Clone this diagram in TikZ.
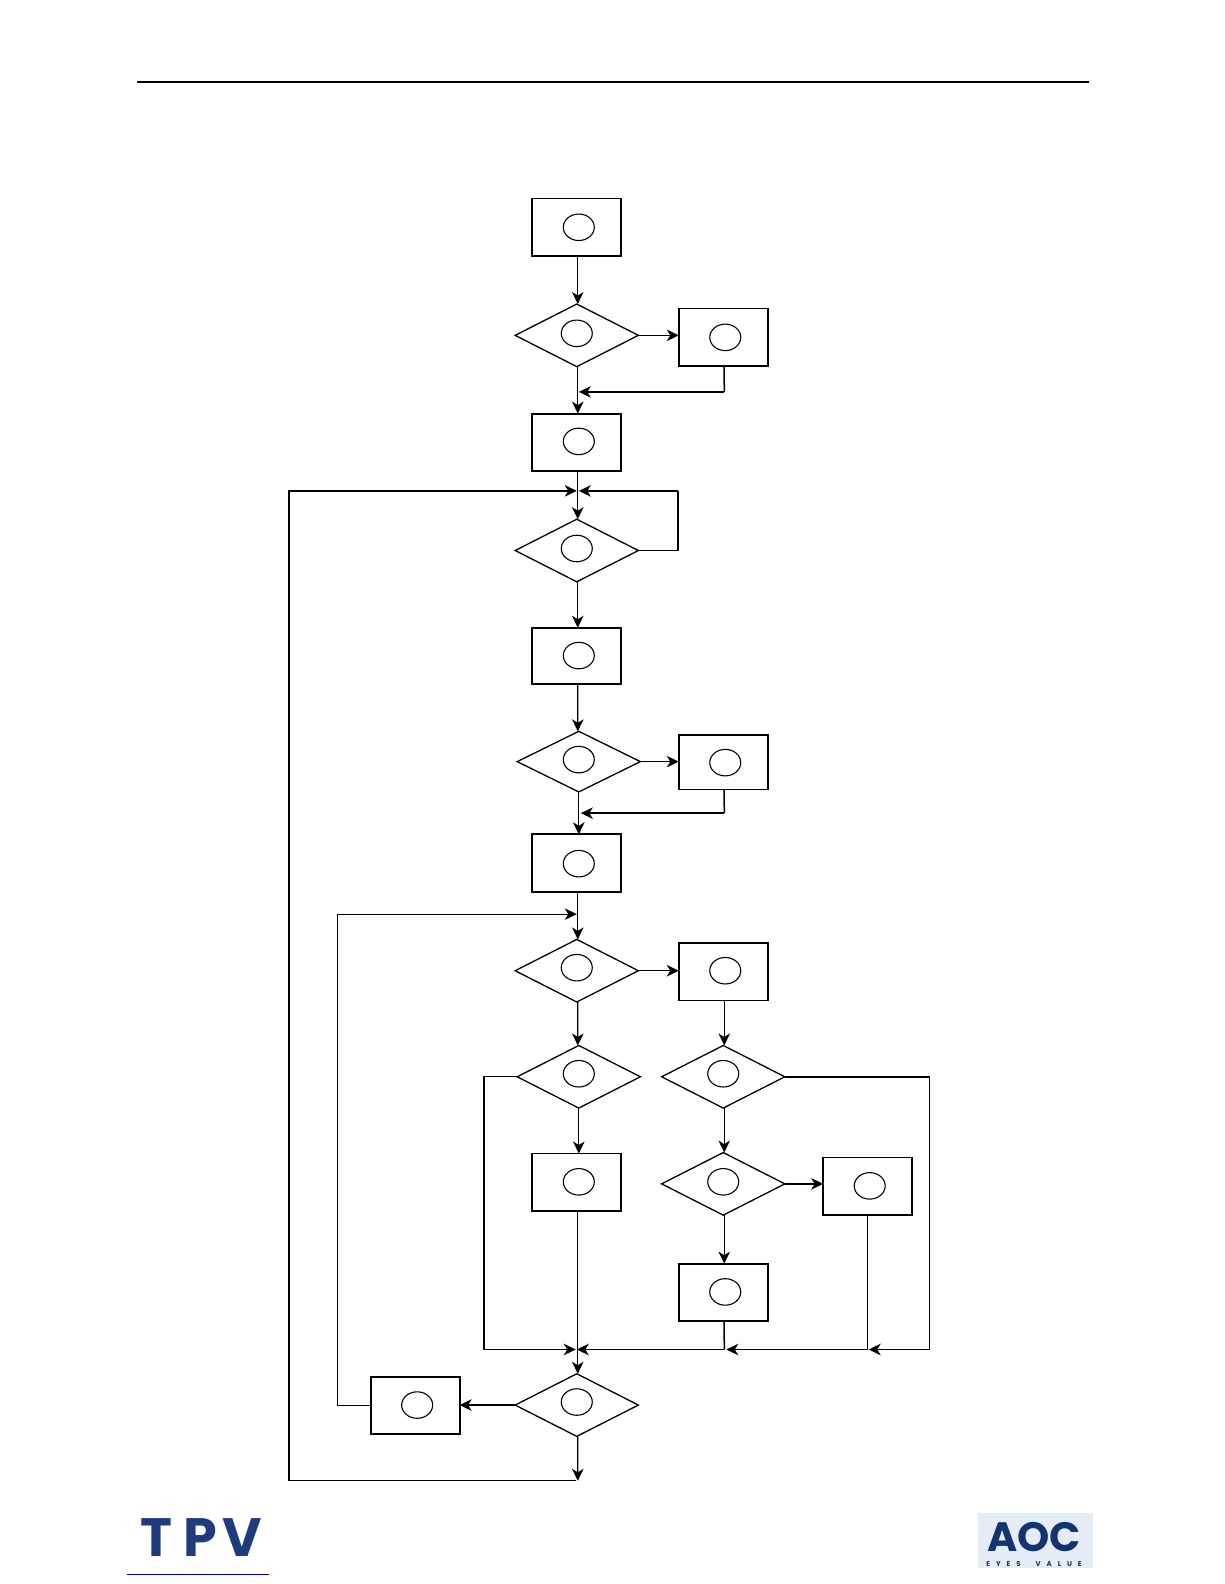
\documentclass[tikz,border=0pt]{standalone}
\usepackage{fontspec}
\setmainfont{Liberation Sans}
\newfontfamily\logofont[Scale=1]{Poppins}
\newfontfamily\taglinefont[LetterSpace=85]{Poppins}
\usetikzlibrary{shapes.geometric,arrows.meta,calc}
\definecolor{logoblue}{HTML}{1F3A7D}
\definecolor{aocbg}{HTML}{E6ECF7}
\definecolor{aocblue}{HTML}{12346F}
\tikzset{
  bx/.style={draw,line width=1.8pt,rectangle,minimum width=88.9pt,minimum height=57.6pt,inner sep=0pt,outer sep=0pt},
  dm/.style={draw,line width=1.3pt,diamond,minimum width=123.2pt,minimum height=62.6pt,inner sep=0pt,outer sep=0pt},
  ov/.style={draw,line width=1.1pt,ellipse,minimum width=31pt,minimum height=26.5pt,inner sep=0pt,outer sep=0pt},
  ar/.style={line width=1.4pt,-{Stealth[length=12pt,width=11.5pt,inset=3.5pt]}},
  ln/.style={line width=1.5pt}
}
\begin{document}
\begin{tikzpicture}[x=1.0101pt,y=-1.0101pt]
\useasboundingbox (0pt,0pt) rectangle (1224pt,-1584pt);
\fill[white] (0pt,0pt) rectangle (1224pt,-1584pt);
\coordinate (ruleL) at (136,81); \coordinate (ruleR) at (1078,81);
\draw[line width=1.6pt] (ruleL) -- (ruleR);

% boxes
\node[bx] (b1) at (571,225) {};
\node[bx] (b2) at (716,334) {};
\node[bx] (b3) at (571,438) {};
\node[bx,minimum height=56.6pt] (b4) at (571,649.5) {};
\node[bx,minimum height=54.6pt] (b5) at (716,754.5) {};
\node[bx] (b6) at (571,854.5) {};
\node[bx] (b7) at (716,962) {};
\node[bx] (b8) at (571,1170.5) {};
\node[bx] (b9) at (859,1174.5) {};
\node[bx] (b10) at (716,1279.5) {};
\node[bx] (b11) at (411,1391.5) {};
% diamonds
\node[dm] (d1) at (571,332) {};
\node[dm] (d2) at (571,545) {};
\node[dm,minimum height=60.6pt] (d3) at (573,754) {};
\node[dm] (d4) at (571,961) {};
\node[dm] (d5) at (573,1066) {};
\node[dm] (d6) at (716,1066) {};
\node[dm] (d7) at (716,1172) {};
\node[dm] (d8) at (571,1391) {};
% ovals
\foreach \n/\p in {o1/{573,225},o2/{571,330},o3/{718,334},o4/{573,437},o5/{571,543},o6/{573,649},o7/{573,752},o8/{718,755},o9/{573,855},o10/{571,958},o11/{718,961},o12/{573,1063},o13/{716,1063},o14/{573,1170},o15/{716,1170},o16/{861,1174},o17/{718,1279},o18/{571,1388},o19/{413,1391}}
  \node[ov] (\n) at (\p) {};

% free-end junctions
\coordinate (j1) at (717,388); \coordinate (j1e) at (573,388);
\coordinate (top) at (286,486); \coordinate (botL) at (286,1466); \coordinate (botR) at (570,1466);
\coordinate (r1) at (671,545); \coordinate (r2) at (671,486); \coordinate (r2e) at (573,486);
\coordinate (top2) at (571,486);
\coordinate (j2) at (717,805); \coordinate (j2e) at (575,805);
\coordinate (t2) at (334,905); \coordinate (t2e) at (571,905);
\coordinate (l1) at (479,1066); \coordinate (l2) at (479,1336); \coordinate (l2e) at (570,1336);
\coordinate (q1) at (920,1066); \coordinate (q2) at (920,1336); \coordinate (q2e) at (860,1336);
\coordinate (s1) at (859,1336); \coordinate (s1e) at (719,1336);
\coordinate (u1) at (717,1336); \coordinate (u1e) at (571,1336);
\coordinate (e1) at (572,1466);

% connectors
\draw[ar] ([xshift=1pt]b1.south) -- ([xshift=1pt]d1.north);
\draw[ar] (d1.east) -- (d1.east -| b2.west);
\draw[ar] ([xshift=1pt]d1.south) -- ([xshift=1pt]b3.north);
\draw[ln] ([xshift=1pt]b2.south) -- (j1);
\draw[ar] (j1) -- (j1e);
\draw[ar] ([xshift=1pt]b3.south) -- ([xshift=1pt]d2.north);
\draw[ar,line width=1.3pt] (botR) -- (botL) -- (top) -- (top2);
\draw[ln] (d2.east) -- (r1) -- (r2);
\draw[ar] (r2) -- (r2e);
\draw[ar] ([xshift=1pt]d2.south) -- ([xshift=1pt]b4.north);
\draw[ar] ([xshift=1pt]b4.south) -- ([xshift=-1pt]d3.north);
\draw[ar] (d3.east) -- (d3.east -| b5.west);
\draw[ln] ([xshift=1pt]b5.south) -- (j2);
\draw[ar] (j2) -- (j2e);
\draw[ar] (d3.south) -- (d3.south |- b6.north);
\draw[ar] ([xshift=1pt]b6.south) -- ([xshift=1pt]d4.north);
\draw[ar,line width=1.2pt] (b11.west) -- (b11.west -| t2) -- (t2) -- (t2e);
\draw[ar] (d4.east) -- (d4.east -| b7.west);
\draw[ar] ([xshift=1pt]d4.south) -- ([xshift=-1pt]d5.north);
\draw[ar] ([xshift=1pt]b7.south) -- ([xshift=1pt]d6.north);
\draw[ar] (d5.south) -- (d5.south |- b8.north);
\draw[ar] (d5.west) -- (l1) -- (l2) -- (l2e);
\draw[ar] ([xshift=1pt]d6.south) -- ([xshift=1pt]d7.north);
\draw[ar] (d7.east) -- (d7.east -| b9.west);
\draw[ar] ([xshift=1pt]d7.south) -- ([xshift=1pt]b10.north);
\draw[ln] (d6.east) -- (q1) -- (q2);
\draw[ar] (q2) -- (q2e);
\draw[ln] (b9.south) -- (s1);
\draw[ar] (s1) -- (s1e);
\draw[ln] ([xshift=1pt]b10.south) -- (u1);
\draw[ar] (u1) -- (u1e);
\draw[ar] ([xshift=1pt]b8.south) -- ([xshift=1pt]d8.north);
\draw[ar] (d8.west) -- (d8.west -| b11.east);
\draw[ar] ([xshift=1pt]d8.south) -- (e1);

% logos
\node[inner sep=0pt,text=logoblue,font=\logofont\bfseries\fontsize{54}{54}\selectfont] (tpv) at (201pt,-1538pt) {T\kern11pt P\kern5pt V};
\coordinate (ulL) at (126,1559); \coordinate (ulR) at (266,1559);
\draw[draw=blue!55!black,line width=1pt] (ulL) -- (ulR);
\fill[aocbg] (968,1498) rectangle (1082,1552);
\node[inner sep=0pt,text=aocblue,font=\logofont\bfseries\fontsize{41}{41}\selectfont] (aoc) at (1034pt,-1537pt) {AOC};
\node[inner sep=0pt,text=aocblue,font=\taglinefont\bfseries\fontsize{7}{7}\selectfont] (eyes) at (1034pt,-1564.5pt) {EYES\ \ VALUE};
\end{tikzpicture}
\end{document}
